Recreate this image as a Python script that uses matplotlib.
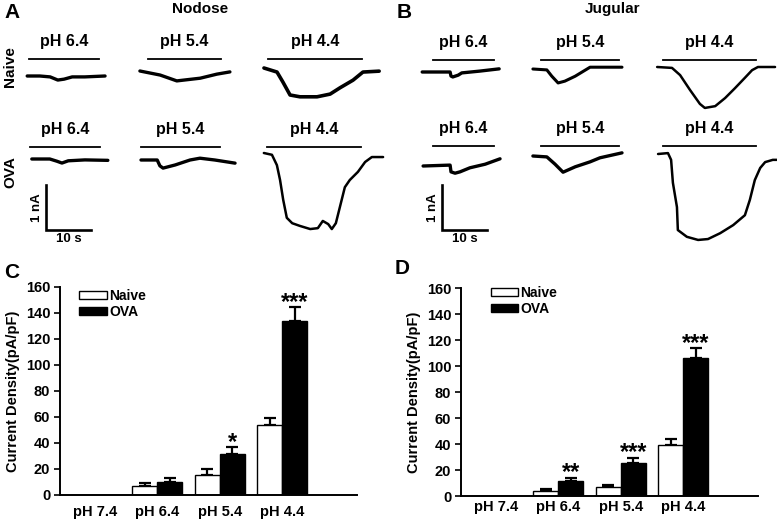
import matplotlib
matplotlib.use("Agg")
import matplotlib.pyplot as plt
import numpy as np
from matplotlib.transforms import Affine2D

plt.rcParams['font.family'] = ['Liberation Sans', 'DejaVu Sans']
plt.rcParams['font.weight'] = 'bold'

# ---------------- bar chart data ----------------
ph_labels = ['pH 7.4', 'pH 6.4', 'pH 5.4', 'pH 4.4']
nod_naive = [0, 6.7, 15.4, 54.0]
nod_naive_sem = [0, 2.8, 4.8, 5.6]
nod_ova = [0, 10.2, 31.7, 133.5]
nod_ova_sem = [0, 2.8, 4.9, 10.8]
nod_stars = ['', '', '*', '***']
jug_naive = [0, 4.0, 6.6, 39.6]
jug_naive_sem = [0, 1.3, 1.5, 4.6]
jug_ova = [0, 11.9, 25.1, 106.4]
jug_ova_sem = [0, 2.1, 4.1, 7.1]
jug_stars = ['', '**', '***', '***']

# ---------------- trace data (t in s from stimulus onset, I in nA from baseline) ----------------
nod_naive_64_t = [-0.4, 2.4, 4.7, 6.4, 7.8, 9.6, 12.4, 16.9]
nod_naive_64_i = [0, 0, -0.02, -0.09, -0.07, -0.02, -0.02, 0]
nod_naive_54_t = [-1.8, 2.7, 6.4, 11.6, 15.3, 18.2]
nod_naive_54_i = [0, -0.09, -0.22, -0.16, -0.07, -0.02]
nod_naive_44_t = [-0.9, 2.0, 3.3, 4.9, 7.1, 10.9, 13.8, 16.0, 18.9, 21.1, 24.7]
nod_naive_44_i = [0, -0.09, -0.31, -0.6, -0.64, -0.64, -0.58, -0.44, -0.27, -0.09, -0.07]
nod_ova_64_t = [0.4, 4.4, 6.0, 7.1, 8.5, 12.2, 17.3]
nod_ova_64_i = [0, 0, -0.05, -0.09, -0.04, -0.02, -0.03]
nod_ova_54_t = [0, 3.6, 4.2, 4.9, 7.6, 10.9, 13.1, 16.4, 20.9]
nod_ova_54_i = [0, 0, -0.13, -0.18, -0.11, 0, 0.04, 0, -0.07]
nod_ova_44_t = [-0.7, 1.1, 2.2, 2.9, 3.6, 4.4, 5.6, 7.3, 9.6, 11.3, 12.4, 13.6, 14.4,
                15.3, 16.2, 17.3, 18.4, 20.2, 21.8, 23.3, 25.8]
nod_ova_44_i = [0, -0.04, -0.27, -0.6, -1.04, -1.44, -1.56, -1.62, -1.69, -1.67, -1.51,
                -1.58, -1.69, -1.56, -1.2, -0.76, -0.6, -0.42, -0.2, -0.09, -0.09]
jug_naive_64_t = [-2.4, 3.8, 4.0, 4.4, 5.6, 6.4, 10.4, 14.7]
jug_naive_64_i = [0, 0, -0.09, -0.11, -0.07, -0.02, 0.02, 0.07]
jug_naive_54_t = [-1.8, 1.3, 2.4, 3.8, 5.3, 7.6, 10.9, 14.2, 18.0]
jug_naive_54_i = [0, -0.02, -0.16, -0.31, -0.27, -0.16, 0.04, 0.04, 0.04]
jug_naive_44_t = [-1.3, 2.0, 3.8, 6.0, 8.2, 9.3, 11.6, 13.8, 16.0, 18.2, 19.8, 21.1, 24.9]
jug_naive_44_i = [0, -0.02, -0.18, -0.51, -0.82, -0.91, -0.87, -0.69, -0.47, -0.24, -0.07, 0, 0]
jug_ova_64_t = [-2.2, 3.8, 4.0, 4.9, 6.0, 8.2, 11.6, 14.9]
jug_ova_64_i = [0, 0.02, -0.13, -0.16, -0.13, -0.04, 0.04, 0.16]
jug_ova_54_t = [-1.8, 1.3, 3.1, 4.9, 7.6, 10.9, 13.1, 18.0]
jug_ova_54_i = [0, -0.02, -0.18, -0.36, -0.24, -0.13, -0.04, 0.07]
jug_ova_44_t = [-1.1, 1.1, 1.8, 2.2, 3.1, 3.3, 5.3, 7.8, 10.0, 12.7, 15.6, 18.2, 19.3,
                20.4, 21.6, 22.7, 24.4, 25.3]
jug_ova_44_i = [0, 0.02, -0.13, -0.64, -1.18, -1.69, -1.84, -1.91, -1.89, -1.76, -1.58,
                -1.36, -1.02, -0.58, -0.31, -0.18, -0.13, -0.13]

# stimulus durations (s)
stim_nod_naive = [15.6, 16.2, 20.9]
stim_nod_ova = [15.6, 17.6, 20.9]
stim_jug_naive = [13.6, 17.3, 20.7]
stim_jug_ova = [13.6, 17.3, 20.7]
trace_labels = ['pH 6.4', 'pH 5.4', 'pH 4.4']

# ---------------- figure ----------------
W, H = 777, 522
fig = plt.figure(figsize=(W / 100, H / 100), dpi=100)
ov = fig.add_axes([0, 0, 1, 1])
ov.set_xlim(0, W)
ov.set_ylim(H, 0)
ov.axis('off')
ov.patch.set_alpha(0)

PX_S = 4.5    # px per second (10 s scale bar = 45 px)
PX_NA = 45.0  # px per nA


def cell(x0, y0):
    return Affine2D().scale(PX_S, -PX_NA).translate(x0, y0) + ov.transData


def draw_trace(t, i, dur, label, x_on, base, bar_y, lw=2.4):
    ov.plot(t, i, color='black', lw=lw, transform=cell(x_on, base),
            solid_joinstyle='round', solid_capstyle='round')
    tb = cell(x_on, bar_y)
    ov.plot([0, dur], [0, 0], color='black', lw=1.3, transform=tb)
    ov.text(dur / 2, 0.38, label, transform=tb, ha='center', va='center',
            fontsize=11.5, fontweight='bold')


nod_naive_tr = [(nod_naive_64_t, nod_naive_64_i), (nod_naive_54_t, nod_naive_54_i),
                (nod_naive_44_t, nod_naive_44_i)]
nod_ova_tr = [(nod_ova_64_t, nod_ova_64_i), (nod_ova_54_t, nod_ova_54_i),
              (nod_ova_44_t, nod_ova_44_i)]
jug_naive_tr = [(jug_naive_64_t, jug_naive_64_i), (jug_naive_54_t, jug_naive_54_i),
                (jug_naive_44_t, jug_naive_44_i)]
jug_ova_tr = [(jug_ova_64_t, jug_ova_64_i), (jug_ova_54_t, jug_ova_54_i),
              (jug_ova_44_t, jug_ova_44_i)]

layout = [
    (nod_naive_tr, stim_nod_naive, [29, 148, 268], [76, 71, 68], 59, [2.4, 2.4, 2.6]),
    (nod_ova_tr, stim_nod_ova, [30, 141, 267], [159, 160, 153], 147, [2.4, 2.4, 1.8]),
    (jug_naive_tr, stim_jug_naive, [433, 541, 663], [72, 69, 67], 60, [2.4, 2.2, 1.8]),
    (jug_ova_tr, stim_jug_ova, [433, 541, 663], [166, 156, 154], 146, [2.4, 2.4, 1.8]),
]
for traces, durs, xons, bases, bary, lws in layout:
    for k, ((t, i), d) in enumerate(zip(traces, durs)):
        draw_trace(t, i, d, trace_labels[k], xons[k], bases[k], bary, lw=lws[k])

# scale bars
for sx in (46, 442):
    tr = cell(sx, 230)
    ov.plot([10, 0, 0], [0, 0, 1], color='black', lw=1.9, transform=tr,
            solid_joinstyle='miter')
    ov.text(-2.1, 0.5, '1 nA', transform=tr, rotation=90, ha='center', va='center',
            fontsize=9.5, fontweight='bold')
    ov.text(5.0, -0.2, '10 s', transform=tr, ha='center', va='center',
            fontsize=9.5, fontweight='bold')

# titles and labels
ov.text(200, 9, 'Nodose', ha='center', va='center', fontsize=11, fontweight='bold')
ov.text(612, 9, 'Jugular', ha='center', va='center', fontsize=11, fontweight='bold')
ov.text(10, 67, 'Naive', rotation=90, ha='center', va='center', fontsize=11, fontweight='bold')
ov.text(10, 172, 'OVA', rotation=90, ha='center', va='center', fontsize=11, fontweight='bold')
for lab, x, y in [('A', 4, 12), ('B', 397, 12), ('C', 4, 272), ('D', 395, 268)]:
    ov.text(x, y, lab, ha='left', va='center', fontsize=15, fontweight='bold')


# ---------------- bar charts ----------------
def bar_panel(rect, naive, naive_sem, ova, ova_sem, stars, xlim, width, lab_pad,
              leg_anchor, ylab_x):
    ax = fig.add_axes(rect)
    x = np.arange(len(ph_labels))
    b1 = ax.bar(x - width / 2, naive, width, color='white', edgecolor='black', lw=1.0,
                label='Naive', zorder=2)
    b2 = ax.bar(x + width / 2, ova, width, color='black', edgecolor='black', lw=1.0,
                label='OVA', zorder=2)
    for xs, vals, sems in [(x - width / 2, naive, naive_sem), (x + width / 2, ova, ova_sem)]:
        for xi, v, s in zip(xs, vals, sems):
            if v > 0:
                ax.errorbar(xi, v, yerr=[[0], [s]], color='black', lw=1.6,
                            capsize=4, capthick=1.6, zorder=1)
    for xi, v, s, st in zip(x + width / 2, ova, ova_sem, stars):
        if st:
            ax.annotate(st, (xi, v + s), xytext=(0, -1), textcoords='offset points',
                        ha='center', va='baseline', fontsize=17, fontweight='bold')
    ax.set_xlim(*xlim)
    ax.set_ylim(0, 160)
    ax.set_yticks(np.arange(0, 161, 20))
    ax.set_xticks(x)
    ax.set_xticklabels(ph_labels, fontsize=10.5, fontweight='bold')
    ax.tick_params(axis='x', length=0, pad=lab_pad)
    ax.tick_params(axis='y', length=4, width=1.2, pad=3, labelsize=10.5)
    for lbl in ax.get_yticklabels():
        lbl.set_fontweight('bold')
    for sp in ('top', 'right'):
        ax.spines[sp].set_visible(False)
    for sp in ('left', 'bottom'):
        ax.spines[sp].set_linewidth(1.4)
    ax.set_ylabel('Current Density(pA/pF)', fontsize=10.5, fontweight='bold')
    ax.yaxis.set_label_coords(ylab_x, 0.5)
    ax.legend(handles=[b1, b2], loc='upper left', bbox_to_anchor=leg_anchor,
              frameon=False, fontsize=10, handlelength=2.0, handleheight=0.45,
              handletextpad=0.15, labelspacing=0.15, borderaxespad=0, borderpad=0)
    ax.patch.set_alpha(0)
    return ax


bar_panel([60 / W, (H - 495) / H, 297 / W, 208 / H], nod_naive, nod_naive_sem,
          nod_ova, nod_ova_sem, nod_stars, (-0.56, 4.2), 0.4, 7, (0.065, 0.99), -0.135)
bar_panel([461 / W, (H - 496) / H, 297 / W, 208 / H], jug_naive, jug_naive_sem,
          jug_ova, jug_ova_sem, jug_stars, (-0.56, 4.2), 0.4, 3, (0.10, 1.01), -0.135)

fig.savefig('out.png', dpi=100)
